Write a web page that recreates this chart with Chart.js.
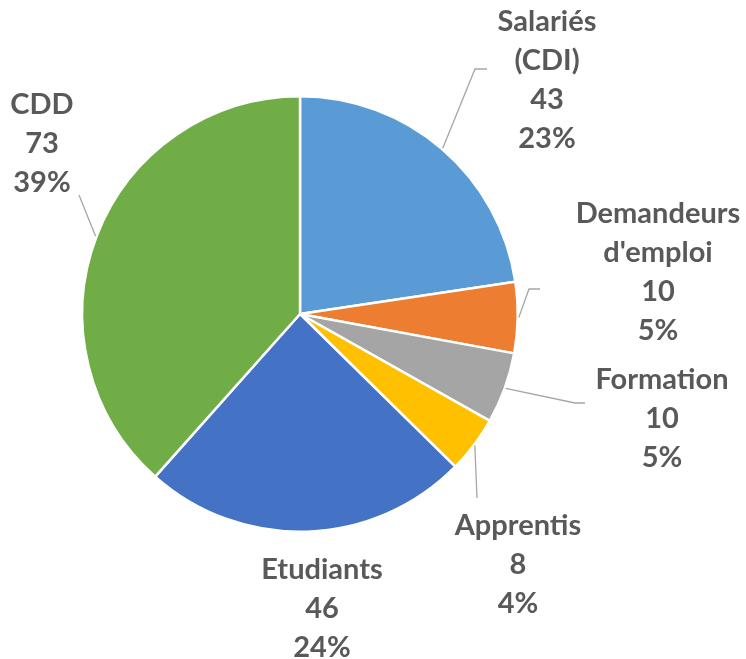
<!DOCTYPE html>
<html><head><meta charset="utf-8">
<script src="https://cdn.jsdelivr.net/npm/chart.js@4.4.1/dist/chart.umd.min.js"></script>
<style>html,body{margin:0;padding:0;background:#fff}#wrap{width:746px;height:659px;position:relative}</style>
</head><body><div id="wrap"><canvas id="c" width="746" height="659"></canvas></div>
<script>
const categories = [["Salariés","(CDI)"],["Demandeurs","d'emploi"],["Formation"],["Apprentis"],["Etudiants"],["CDD"]];
const values = [43, 10, 10, 8, 46, 73];
const percentLabels = ["23%", "5%", "5%", "4%", "24%", "39%"];
const colors = ["#5B9BD5", "#ED7D31", "#A5A5A5", "#FFC000", "#4472C4", "#70AD47"];

// label layout: text centre of first line relative to pie centre, leader line points relative to pie centre
const labelOffsets = [[247,-292],[358,-100],[362,66],[218,212],[22,256],[-258,-209]];
const leaderPoints = [
  [[175,-245],[187,-245]],
  [[229,-25],[240,-25]],
  [[275,89],[285,89]],
  [[177,184]],
  null,
  [[-221,-119]]
];

const labelPlugin = {
  id: 'outLabels',
  afterDatasetsDraw(chart) {
    const ctx = chart.ctx;
    const meta = chart.getDatasetMeta(0);
    ctx.save();
    meta.data.forEach((arc, i) => {
      const cx = arc.x, cy = arc.y, r = arc.outerRadius;
      const mid = (arc.startAngle + arc.endAngle) / 2;
      const pts = leaderPoints[i];
      if (pts) {
        ctx.beginPath();
        ctx.strokeStyle = '#A6A6A6';
        ctx.lineWidth = 1.3;
        ctx.moveTo(cx + Math.cos(mid) * (r + 1), cy + Math.sin(mid) * (r + 1));
        pts.forEach(p => ctx.lineTo(cx + p[0], cy + p[1]));
        ctx.stroke();
      }
      const lines = [...categories[i], String(values[i]), percentLabels[i]];
      ctx.fillStyle = '#595959';
      ctx.font = 'bold 29px Lato';
      ctx.textAlign = 'center';
      ctx.textBaseline = 'middle';
      const [ox, oy] = labelOffsets[i];
      lines.forEach((t, k) => ctx.fillText(t, cx + ox, cy + oy + k * 39));
    });
    ctx.restore();
  }
};

new Chart(document.getElementById('c'), {
  type: 'pie',
  data: {
    labels: categories.map(c => c.join(' ')),
    datasets: [{
      data: values,
      backgroundColor: colors,
      borderColor: '#FFFFFF',
      borderWidth: 2.5
    }]
  },
  options: {
    responsive: false,
    animation: false,
    layout: { padding: { left: 81, right: 227, top: 95, bottom: 126 } },
    plugins: { legend: { display: false }, tooltip: { enabled: false } }
  },
  plugins: [labelPlugin]
});
</script>
</body></html>
